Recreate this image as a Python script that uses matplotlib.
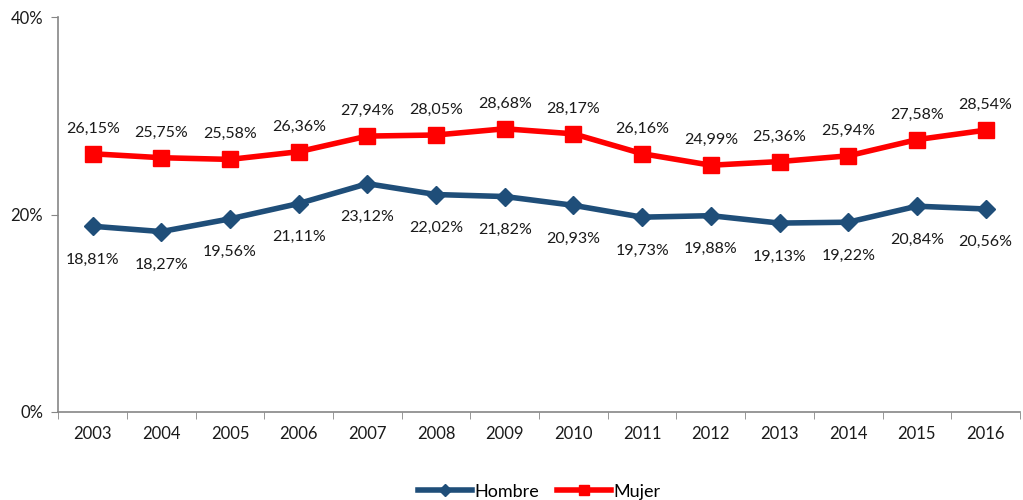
import matplotlib.pyplot as plt
import numpy as np
from matplotlib.ticker import FuncFormatter

years = [str(y) for y in range(2003, 2017)]
hombre = [18.81, 18.27, 19.56, 21.11, 23.12, 22.02, 21.82, 20.93, 19.73, 19.88, 19.13, 19.22, 20.84, 20.56]
mujer = [26.15, 25.75, 25.58, 26.36, 27.94, 28.05, 28.68, 28.17, 26.16, 24.99, 25.36, 25.94, 27.58, 28.54]

BLUE = "#1F4E79"
RED = "#FF0000"
GREY = "#868686"

plt.rcParams["font.family"] = ["Lato", "DejaVu Sans"]

fig = plt.figure(figsize=(10.23, 5.0), dpi=100)
ax = fig.add_axes([0.057, 0.176, 0.94, 0.79])

x = np.arange(len(years))
ax.plot(x, hombre, color=BLUE, linewidth=4, marker="D", markersize=9, label="Hombre")
ax.plot(x, mujer, color=RED, linewidth=4, marker="s", markersize=11, label="Mujer")

def fmt(v):
    return f"{v:.2f}".replace(".", ",") + "%"

for xi, v in zip(x, hombre):
    ax.annotate(fmt(v), (xi, v), xytext=(0, -19), textcoords="offset points",
                ha="center", va="top", fontsize=11.5, color="#1a1a1a")
for xi, v in zip(x, mujer):
    ax.annotate(fmt(v), (xi, v), xytext=(0, 13), textcoords="offset points",
                ha="center", va="bottom", fontsize=11.5, color="#1a1a1a")

ax.set_ylim(0, 40)
ax.set_yticks([0, 20, 40])
ax.yaxis.set_major_formatter(FuncFormatter(lambda v, p: f"{v:.0f}%"))
ax.set_xlim(-0.5, len(years) - 0.5)
ax.set_xticks(x)
ax.set_xticklabels(years)
ax.set_xticks(np.arange(-0.5, len(years)), minor=True)
ax.tick_params(axis="x", which="major", length=0, pad=10, labelsize=12, colors="#1a1a1a")
ax.tick_params(axis="x", which="minor", length=5, color=GREY)
ax.tick_params(axis="y", length=5, color=GREY, labelsize=12, labelcolor="#1a1a1a", pad=6)

for s in ["top", "right"]:
    ax.spines[s].set_visible(False)
for s in ["left", "bottom"]:
    ax.spines[s].set_color(GREY)
    ax.spines[s].set_linewidth(1.2)

ax.legend(loc="upper center", bbox_to_anchor=(0.5, -0.14), ncol=2, frameon=False,
          fontsize=13, handlelength=3, columnspacing=1.0, handletextpad=0.1,
          markerscale=0.7)

fig.savefig("out.png", dpi=100)
